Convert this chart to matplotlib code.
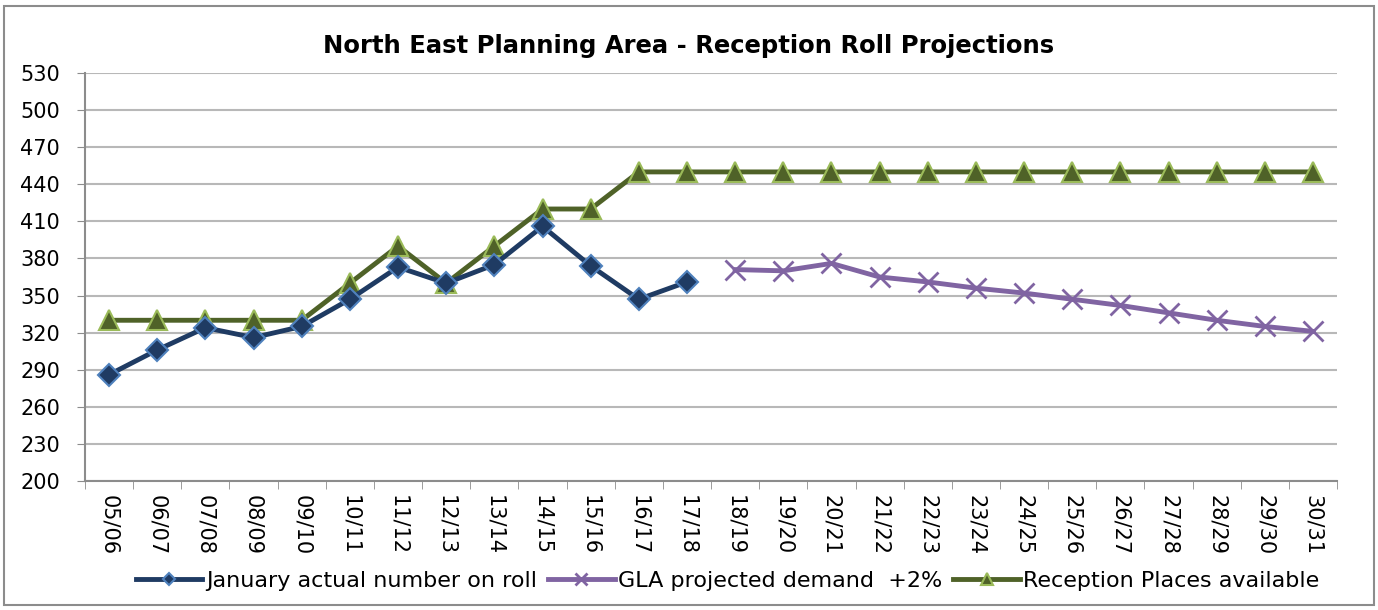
import numpy as np
import matplotlib
matplotlib.use("Agg")
import matplotlib.pyplot as plt
from matplotlib.patches import Rectangle

plt.rcParams['font.family'] = ['DejaVu Sans']

years = ["05/06", "06/07", "07/08", "08/09", "09/10", "10/11", "11/12", "12/13",
         "13/14", "14/15", "15/16", "16/17", "17/18", "18/19", "19/20", "20/21",
         "21/22", "22/23", "23/24", "24/25", "25/26", "26/27", "27/28", "28/29",
         "29/30", "30/31"]
actual = [286, 306, 324, 316, 325, 347, 373, 360, 375, 406, 374, 347, 361]
gla = [371, 370, 376, 365, 361, 356, 352, 347, 342, 336, 330, 325, 321]
places = [330, 330, 330, 330, 330, 360, 390, 360, 390, 420, 420, 450, 450,
          450, 450, 450, 450, 450, 450, 450, 450, 450, 450, 450, 450, 450]

x = np.arange(len(years))
x_act = x[:len(actual)]
x_gla = x[len(years) - len(gla):]

fig = plt.figure(figsize=(13.78, 6.10), dpi=100)
ax = fig.add_axes([0.0617, 0.2115, 0.9086, 0.6688])

# outer chart border
fig.patches.append(Rectangle((0.003, 0.009), 0.994, 0.981, transform=fig.transFigure,
                             fill=False, edgecolor='#8c8c8c', linewidth=1.5))

ax.plot(x_act, actual, color='#1f3b63', linewidth=3.5, marker='D', markersize=11,
        markerfacecolor='#1f3b63', markeredgecolor='#4f81bd', markeredgewidth=1.5,
        label='January actual number on roll', zorder=4)
ax.plot(x_gla, gla, color='#8064a2', linewidth=3.5, marker='x', markersize=15,
        markeredgewidth=2, label='GLA projected demand  +2%', zorder=3)
ax.plot(x, places, color='#4f6228', linewidth=3.5, marker='^', markersize=15,
        markerfacecolor='#4f6228', markeredgecolor='#9bbb59', markeredgewidth=1.5,
        label='Reception Places available', zorder=3)

ax.set_xlim(-0.5, len(years) - 0.5)
ax.set_ylim(200, 530)
ax.set_yticks(np.arange(200, 531, 30))
ax.set_xticks(x)
ax.set_xticklabels(years, rotation=-90, fontsize=15)
ax.set_xticks(np.arange(-0.5, len(years)), minor=True)
ax.tick_params(axis='x', which='major', length=0, pad=10)
ax.tick_params(axis='x', which='minor', length=6, color='#8c8c8c', direction='out')
ax.tick_params(axis='y', labelsize=15, length=6, color='#8c8c8c', pad=12)

ax.grid(axis='y', color='#b8b8b8', linewidth=1.5)
ax.set_axisbelow(True)
for side in ['top', 'right']:
    ax.spines[side].set_visible(False)
for side in ['left', 'bottom']:
    ax.spines[side].set_color('#8c8c8c')
    ax.spines[side].set_linewidth(1.5)

fig.text(0.5, 0.925, "North East Planning Area - Reception Roll Projections",
         ha='center', va='center', fontsize=17.5, fontweight='bold')

handles, labels = ax.get_legend_handles_labels()
leg = fig.legend(handles, labels, loc='center', bbox_to_anchor=(0.528, 0.048), ncol=3,
                 frameon=False, fontsize=16, handlelength=3.0, columnspacing=0.5,
                 handletextpad=0.15, markerscale=0.55)

fig.savefig("out.png", dpi=100)
